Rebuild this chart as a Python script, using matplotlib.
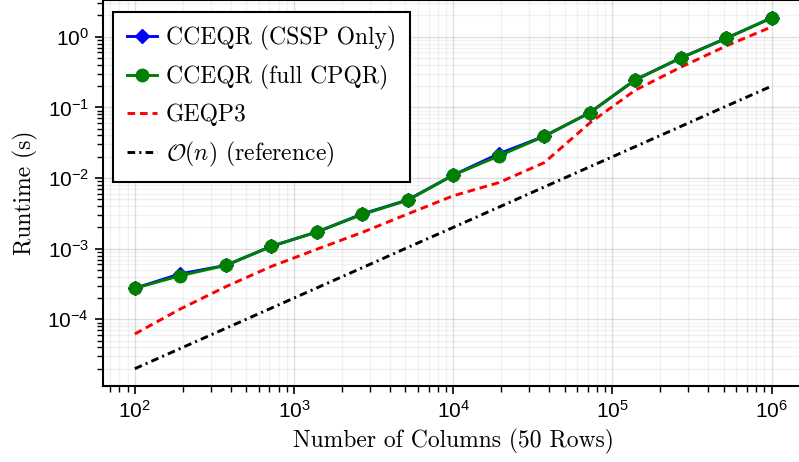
import matplotlib
matplotlib.use("Agg")
import matplotlib.pyplot as plt
from matplotlib.ticker import LogLocator, NullFormatter

plt.rcParams['font.family'] = ['Liberation Sans', 'DejaVu Sans']
plt.rcParams['mathtext.fontset'] = 'cm'
plt.rcParams['lines.scale_dashes'] = False

# number of columns (logspace 1e2 .. 1e6)
n_cols = [100, 193, 373, 720, 1389, 2683, 5179, 10000, 19307, 37276,
          71969, 138950, 268270, 517947, 1000000]

# runtimes in seconds
cceqr_cssp = [2.75e-4, 4.4e-4, 5.8e-4, 1.08e-3, 1.72e-3, 3.1e-3, 4.9e-3,
              1.1e-2, 2.2e-2, 3.9e-2, 8.4e-2, 0.245, 0.50, 0.95, 1.85]
cceqr_full = [2.75e-4, 4.15e-4, 5.8e-4, 1.08e-3, 1.72e-3, 3.05e-3, 4.85e-3,
              1.1e-2, 2.05e-2, 3.9e-2, 8.4e-2, 0.245, 0.50, 0.95, 1.85]
geqp3 = [6.2e-5, 1.4e-4, 2.9e-4, 5.6e-4, 9.8e-4, 1.7e-3, 3.1e-3,
         5.6e-3, 8.6e-3, 1.65e-2, 6.0e-2, 0.175, 0.37, 0.74, 1.38]
ref_line = [2.0e-5, 3.86e-5, 7.46e-5, 1.44e-4, 2.78e-4, 5.37e-4, 1.04e-3,
            2.0e-3, 3.86e-3, 7.46e-3, 1.44e-2, 2.78e-2, 5.37e-2, 0.104, 0.2]

fig = plt.figure(figsize=(7.99, 4.62), dpi=100)
ax = fig.add_axes([103 / 799, 76.3 / 462, 700.5 / 799, 385.7 / 462])

ax.plot(n_cols, cceqr_cssp, color='blue', lw=2.1, marker='D', ms=7.2,
        label='CCEQR (CSSP Only)', zorder=3)
ax.plot(n_cols, cceqr_full, color='green', lw=2.1, marker='o', ms=9,
        label='CCEQR (full CPQR)', zorder=4)
ax.plot(n_cols, geqp3, color='red', lw=2.1, ls=(0, (5.5, 3.5)),
        label='GEQP3', zorder=2)
ax.plot(n_cols, ref_line, color='black', lw=2.1, ls=(0, (5.5, 3, 1.5, 3)),
        label=r'$\mathcal{O}(n)$ (reference)', zorder=2)

ax.set_xscale('log')
ax.set_yscale('log')
ax.set_xlim(10 ** 1.8, 10 ** 6.2)
ax.set_ylim(10 ** -4.94, 10 ** 0.52)

ax.xaxis.set_minor_locator(LogLocator(base=10, subs=range(2, 10), numticks=20))
ax.yaxis.set_minor_locator(LogLocator(base=10, subs=range(2, 10), numticks=20))
ax.xaxis.set_minor_formatter(NullFormatter())
ax.yaxis.set_minor_formatter(NullFormatter())

ax.grid(True, which='major', color='black', alpha=0.13, lw=1)
ax.grid(True, which='minor', color='black', alpha=0.05, lw=1)
ax.set_axisbelow(True)

for side in ['left', 'bottom', 'top', 'right']:
    ax.spines[side].set_linewidth(1.5)

ax.tick_params(which='major', direction='out', length=6, width=1.2,
               labelsize=15, pad=4, top=False, right=False)
ax.tick_params(which='minor', direction='out', length=4, width=1,
               top=False, right=False)

ax.set_xlabel('Number of Columns (50 Rows)', fontfamily='cmr10', fontsize=17,
              labelpad=5)
ax.set_ylabel('Runtime (s)', fontfamily='cmr10', fontsize=17, labelpad=7)

leg = ax.legend(loc='upper left',
                bbox_to_anchor=(10 / 700.5, (385.7 - 12) / 385.7),
                borderaxespad=0,
                prop={'family': 'cmr10', 'size': 17}, fancybox=False,
                framealpha=1, edgecolor='black', handlelength=1.3,
                labelspacing=0.58, borderpad=0.58, handletextpad=0.36)
leg.get_frame().set_linewidth(1.5)

fig.savefig('out.png', dpi=100)
